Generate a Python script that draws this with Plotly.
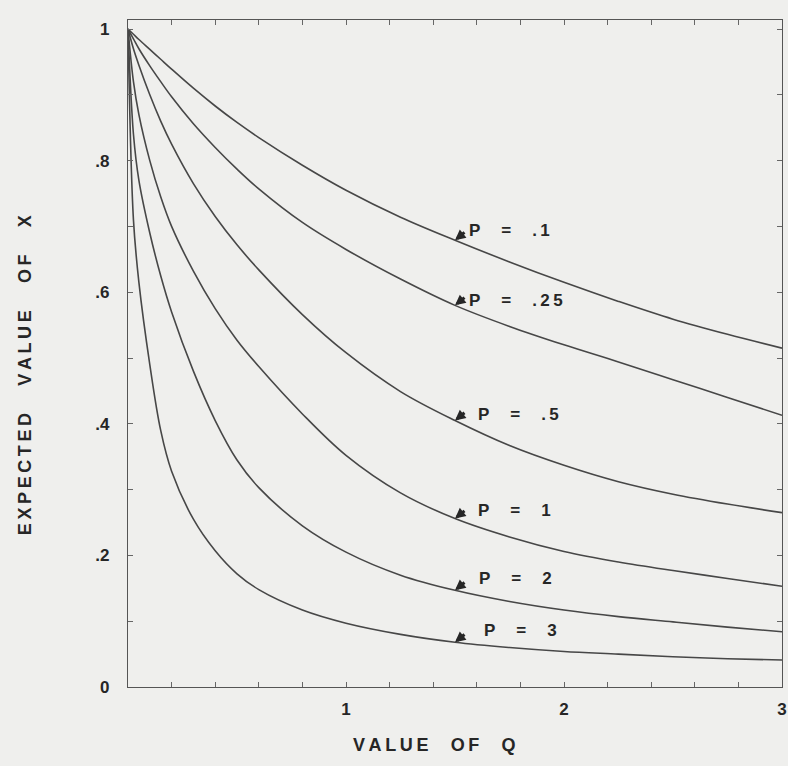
import plotly.graph_objects as go

# ---- data ----
Q = [0, 0.025, 0.05, 0.1, 0.15, 0.2, 0.3, 0.4, 0.5, 0.6, 0.8, 1.0, 1.25, 1.5, 1.75, 2.0, 2.25, 2.5, 2.75, 3.0]

P_010 = [1.0, 0.992, 0.984, 0.969, 0.954, 0.939, 0.91, 0.883, 0.858, 0.835, 0.793, 0.755, 0.714, 0.679, 0.646, 0.615, 0.586, 0.559, 0.536, 0.515]
P_025 = [1.0, 0.985, 0.97, 0.944, 0.92, 0.897, 0.856, 0.82, 0.787, 0.757, 0.706, 0.665, 0.62, 0.58, 0.548, 0.52, 0.494, 0.467, 0.44, 0.413]
P_050 = [1.0, 0.97, 0.945, 0.9, 0.86, 0.825, 0.765, 0.715, 0.672, 0.634, 0.566, 0.508, 0.449, 0.405, 0.367, 0.337, 0.312, 0.293, 0.278, 0.265]
P_100 = [1.0, 0.92, 0.87, 0.80, 0.745, 0.70, 0.632, 0.575, 0.527, 0.487, 0.415, 0.352, 0.295, 0.256, 0.228, 0.206, 0.19, 0.177, 0.165, 0.153]
P_200 = [1.0, 0.84, 0.77, 0.69, 0.625, 0.57, 0.48, 0.405, 0.345, 0.303, 0.245, 0.205, 0.17, 0.147, 0.13, 0.117, 0.107, 0.099, 0.091, 0.084]
P_300 = [1.0, 0.71, 0.615, 0.49, 0.39, 0.328, 0.255, 0.207, 0.172, 0.148, 0.117, 0.097, 0.08, 0.068, 0.06, 0.054, 0.05, 0.046, 0.043, 0.041]

series = [P_010, P_025, P_050, P_100, P_200, P_300]
labels = ["P = .1", "P = .25", "P = .5", "P = 1", "P = 2", "P = 3"]
LABEL_Q = 1.5

y_tickvals = [0, 0.1, 0.2, 0.3, 0.4, 0.5, 0.6, 0.7, 0.8, 0.9, 1.0]
y_ticktext = ["0", "", ".2", "", ".4", "", ".6", "", ".8", "", "1"]
x_tickvals = [0, 0.2, 0.4, 0.6, 0.8, 1.0, 1.2, 1.4, 1.6, 1.8, 2.0, 2.2, 2.4, 2.6, 2.8, 3.0]
x_ticktext = ["", "", "", "", "", "1", "", "", "", "", "2", "", "", "", "", "3"]

x_title = "VALUE OF Q"
y_title = "EXPECTED VALUE OF X"

# ---- styling ----
INK = "#262626"
BG = "#efefed"
FONT = "Liberation Sans"


def spaced(s, word_gap=3):
    out = []
    for ch in s:
        if ch == " ":
            out.append("\u00a0" * word_gap)
        else:
            out.append(ch)
    return "\u2009".join(out)


fig = go.Figure()
for ys, lab in zip(series, labels):
    fig.add_trace(go.Scatter(x=Q, y=ys, mode="lines", name=lab,
                             line=dict(color="#474747", width=1.6, shape="spline", smoothing=1.0),
                             hoverinfo="skip", showlegend=False))

# label offsets (pixels) relative to curve point at Q=1.5
text_dx = [12, 12, 21, 21, 22, 27]
text_dy = [10, 5, 6, 8, 12, 12]
idx = Q.index(LABEL_Q)
for ys, lab, dx, dy in zip(series, labels, text_dx, text_dy):
    yv = ys[idx]
    fig.add_annotation(x=LABEL_Q, y=yv, text="", showarrow=True, ax=11, ay=-9,
                       arrowhead=2, arrowsize=0.7, arrowwidth=3, arrowcolor=INK,
                       xref="x", yref="y", axref="pixel", ayref="pixel")
    fig.add_annotation(x=LABEL_Q, y=yv, text=spaced(lab, 3), showarrow=False,
                       xanchor="left", yanchor="middle", xshift=dx, yshift=dy,
                       font=dict(family=FONT, size=17, color=INK, weight="bold"))

fig.add_annotation(xref="paper", yref="paper", x=-0.157, y=0.468, text=spaced(y_title, 4),
                   textangle=-90, showarrow=False, xanchor="center", yanchor="middle",
                   font=dict(family=FONT, size=18, color=INK, weight="bold"))
fig.add_annotation(xref="paper", yref="paper", x=0.468, y=-0.087, text=spaced(x_title, 3),
                   showarrow=False, xanchor="center", yanchor="middle",
                   font=dict(family=FONT, size=18, color=INK, weight="bold"))

axis_common = dict(showgrid=False, zeroline=False, showline=True, linecolor="#555555", linewidth=1.3,
                   ticks="inside", ticklen=5, tickwidth=1, tickcolor="#666666", mirror="allticks",
                   automargin=False,
                   tickfont=dict(family=FONT, size=17, color=INK, weight="bold"))

fig.update_xaxes(range=[0, 3], tickmode="array", tickvals=x_tickvals, ticktext=x_ticktext,
                 ticklabelstandoff=6, ticklabeloverflow="allow", **axis_common)
fig.update_yaxes(range=[0, 1.0137], tickmode="array", tickvals=y_tickvals, ticktext=y_ticktext,
                 ticklabelstandoff=14, **axis_common)

fig.update_layout(width=788, height=766, margin=dict(l=128, r=6, t=20, b=79),
                  paper_bgcolor=BG, plot_bgcolor=BG, showlegend=False)

fig.write_html("out.html", config={"displayModeBar": False},
               post_script="document.body.style.margin='0';document.body.style.background='%s';" % BG)
